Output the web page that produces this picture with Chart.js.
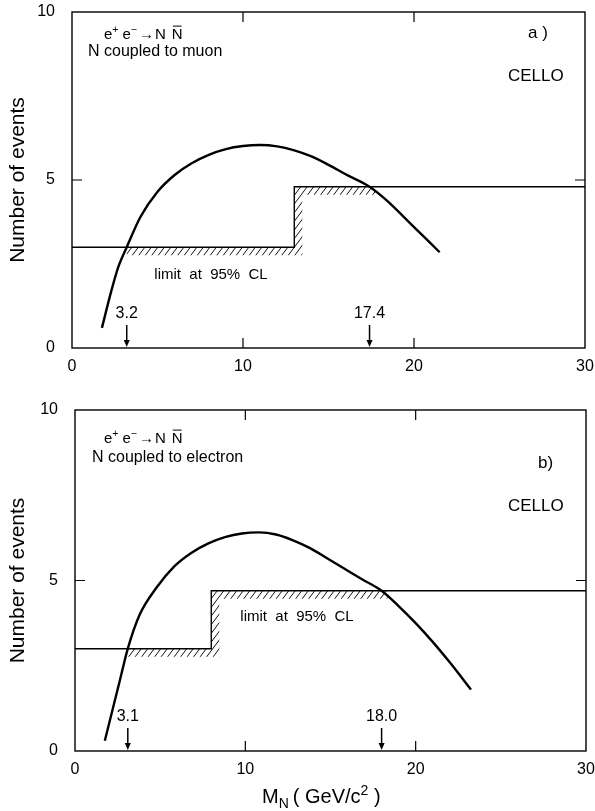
<!DOCTYPE html>
<html>
<head>
<meta charset="utf-8">
<script src="https://cdn.jsdelivr.net/npm/chart.js@4/dist/chart.umd.min.js"></script>
<style>
  html, body { margin: 0; padding: 0; background: #fff; }
  #wrap { position: relative; width: 595px; height: 811px; }
  canvas { position: absolute; left: 0; }
</style>
</head>
<body>
<div id="wrap">
  <canvas id="panelA" width="595" height="395" style="top:0"></canvas>
  <canvas id="panelB" width="595" height="416" style="top:395px"></canvas>
</div>
<script>
// ---- panel a): N coupled to muon ----
const massA   = [1.75, 2.3, 2.7, 3.2, 4.0, 5.0, 6.0, 7.0, 8.0, 9.0, 10.0, 11.0, 12.0, 13.0, 14.0, 15.0, 16.0, 17.4, 18.5, 19.5, 20.5, 21.5];
const eventsA = [0.6, 1.7, 2.4, 3.0, 3.9, 4.65, 5.15, 5.5, 5.75, 5.92, 6.01, 6.04, 6.0, 5.88, 5.7, 5.45, 5.17, 4.8, 4.35, 3.85, 3.35, 2.85];
const limitEdgesA  = [0, 13, 30];
const limitLevelsA = [3.0, 4.8, 4.8];
const boundsA      = [3.2, 17.4];
const boundLabelsA = ['3.2', '17.4'];

// ---- panel b): N coupled to electron ----
const massB   = [1.75, 2.2, 2.6, 3.1, 3.8, 4.8, 5.8, 6.8, 7.8, 8.8, 9.8, 10.8, 11.8, 12.8, 13.8, 14.8, 15.8, 16.8, 18.0, 19.0, 20.0, 21.0, 22.0, 23.25];
const eventsB = [0.3, 1.2, 2.0, 3.0, 4.0, 4.8, 5.4, 5.8, 6.08, 6.27, 6.38, 6.41, 6.35, 6.18, 5.95, 5.65, 5.35, 5.05, 4.7, 4.25, 3.75, 3.2, 2.6, 1.8];
const limitEdgesB  = [0, 8, 30];
const limitLevelsB = [3.0, 4.7, 4.7];
const boundsB      = [3.1, 18.0];
const boundLabelsB = ['3.1', '18.0'];

// shared axes
const xTicks = [0, 10, 20, 30];
const xTickLabels = ['0', '10', '20', '30'];
const yTicks = [0, 5, 10];
const yTickLabels = ['0', '5', '10'];

const FONT = "'Liberation Sans', Arial, Helvetica, sans-serif";
Chart.defaults.font.family = FONT;
Chart.defaults.color = '#000';

function font(size) { return size + 'px ' + FONT; }

// draws a run of text pieces; pieces may be raised (sup), lowered (sub) or overlined
function drawRich(ctx, x, y, pieces, size) {
  ctx.save();
  ctx.textBaseline = 'alphabetic';
  ctx.textAlign = 'left';
  ctx.fillStyle = '#000';
  let cx = x;
  for (const p of pieces) {
    const s = p.sup || p.sub ? size * 0.7 : size;
    ctx.font = font(s);
    let dy = 0;
    if (p.sup) dy = -size * 0.38;
    if (p.sub) dy = size * 0.25;
    ctx.fillText(p.t, cx, y + dy);
    const w = ctx.measureText(p.t).width;
    if (p.bar) {
      ctx.strokeStyle = '#000';
      ctx.lineWidth = 1;
      ctx.beginPath();
      ctx.moveTo(cx + 1, y - size * 0.86);
      ctx.lineTo(cx + w - 1, y - size * 0.86);
      ctx.stroke();
    }
    cx += w + (p.gap || 0);
  }
  ctx.restore();
}

// hatched band on the excluded side of the limit staircase
function hatchBand(chart, edges, levels, from, to) {
  const { ctx, scales: { x, y } } = chart;
  const w = 8;
  const xs = x.getPixelForValue(edges[1]);
  const yLo = y.getPixelForValue(levels[0]);
  const yHi = y.getPixelForValue(levels[1]);
  const xa = x.getPixelForValue(from);
  const xb = x.getPixelForValue(to) + 6;
  ctx.save();
  ctx.beginPath();
  ctx.rect(xa, yLo, xs + w - xa, w);
  ctx.rect(xs, yHi, w, yLo - yHi + w);
  ctx.rect(xs, yHi, xb - xs, w);
  ctx.clip();
  ctx.strokeStyle = '#111';
  ctx.lineWidth = 1;
  ctx.beginPath();
  const H = chart.height;
  for (let k = -H; k < chart.width + H; k += 6.5) {
    ctx.moveTo(k, H);
    ctx.lineTo(k + 0.75 * H, 0);
  }
  ctx.stroke();
  ctx.restore();
}

// closed frame, inward tick marks and the tick labels
function frameAndTicks(chart) {
  const { ctx, chartArea: a, scales: { x, y } } = chart;
  ctx.save();
  ctx.strokeStyle = '#000';
  ctx.lineWidth = 1.4;
  ctx.strokeRect(a.left, a.top, a.right - a.left, a.bottom - a.top);
  ctx.lineWidth = 1.2;
  ctx.beginPath();
  for (const t of x.ticks.slice(1, -1)) {
    const px = x.getPixelForValue(t.value);
    ctx.moveTo(px, a.bottom); ctx.lineTo(px, a.bottom - 10);
    ctx.moveTo(px, a.top);    ctx.lineTo(px, a.top + 10);
  }
  for (const t of y.ticks.slice(1, -1)) {
    const py = y.getPixelForValue(t.value);
    ctx.moveTo(a.left, py);  ctx.lineTo(a.left + 10, py);
    ctx.moveTo(a.right, py); ctx.lineTo(a.right - 10, py);
  }
  ctx.stroke();

  ctx.fillStyle = '#000';
  ctx.font = font(16);
  ctx.textBaseline = 'middle';
  ctx.textAlign = 'center';
  x.ticks.forEach((t, i) => ctx.fillText(xTickLabels[i], x.getPixelForValue(t.value), a.bottom + 19));
  ctx.textAlign = 'right';
  y.ticks.forEach((t, i) => ctx.fillText(yTickLabels[i], a.left - 17, y.getPixelForValue(t.value)));

  // vertical axis title
  ctx.save();
  ctx.translate(18, (a.top + a.bottom) / 2);
  ctx.rotate(-Math.PI / 2);
  ctx.textAlign = 'center';
  ctx.font = font(21);
  ctx.fillText('Number of events', 0, 0);
  ctx.restore();
  ctx.restore();
}

function boundArrows(chart, bounds, labels) {
  const { ctx, chartArea: a, scales: { x } } = chart;
  ctx.save();
  ctx.strokeStyle = '#000';
  ctx.fillStyle = '#000';
  bounds.forEach((b, i) => {
    const px = x.getPixelForValue(b);
    ctx.lineWidth = 1.5;
    ctx.beginPath();
    ctx.moveTo(px, a.bottom - 23);
    ctx.lineTo(px, a.bottom - 6);
    ctx.stroke();
    ctx.beginPath();
    ctx.moveTo(px - 3, a.bottom - 8);
    ctx.lineTo(px + 3, a.bottom - 8);
    ctx.lineTo(px, a.bottom - 1);
    ctx.closePath();
    ctx.fill();
    ctx.font = font(16);
    ctx.textAlign = 'center';
    ctx.textBaseline = 'middle';
    ctx.fillText(labels[i], px, a.bottom - 34);
  });
  ctx.restore();
}

function reaction(ctx, x, y) {
  drawRich(ctx, x, y, [
    { t: 'e' }, { t: '+', sup: true, gap: 4 },
    { t: 'e' }, { t: '\u2212', sup: true, gap: 2 },
    { t: '\u2192', gap: 1 }, { t: 'N', gap: 6 },
    { t: 'N', bar: true }
  ], 15);
}

function makePanel(id, cfg) {
  const el = document.getElementById(id);
  const curve = cfg.mass.map((m, i) => ({ x: m, y: cfg.events[i] }));
  const limit = cfg.edges.map((e, i) => ({ x: e, y: cfg.levels[i] }));
  const deco = {
    id: 'deco_' + id,
    beforeDatasetsDraw(chart) {
      hatchBand(chart, cfg.edges, cfg.levels, cfg.bounds[0], cfg.bounds[1]);
    },
    afterDraw(chart) {
      frameAndTicks(chart);
      boundArrows(chart, cfg.bounds, cfg.boundLabels);
      cfg.text(chart);
    }
  };
  return new Chart(el, {
    type: 'line',
    data: {
      datasets: [
        { data: curve, borderColor: '#000', borderWidth: 2.4, pointRadius: 0,
          cubicInterpolationMode: 'monotone', fill: false },
        { data: limit, borderColor: '#000', borderWidth: 1.4, pointRadius: 0,
          stepped: 'before', fill: false }
      ]
    },
    options: {
      responsive: false,
      animation: false,
      events: [],
      layout: { padding: cfg.padding },
      plugins: { legend: { display: false }, tooltip: { enabled: false } },
      scales: {
        x: {
          type: 'linear', min: 0, max: 30,
          grid: { display: false, drawTicks: false },
          border: { display: false },
          afterBuildTicks: s => { s.ticks = xTicks.map(v => ({ value: v })); },
          ticks: { display: false },
          afterFit: s => { s.height = cfg.xHeight; }
        },
        y: {
          type: 'linear', min: 0, max: 10,
          grid: { display: false, drawTicks: false },
          border: { display: false },
          afterBuildTicks: s => { s.ticks = yTicks.map(v => ({ value: v })); },
          ticks: { display: false },
          afterFit: s => { s.width = cfg.yWidth; }
        }
      }
    },
    plugins: [deco]
  });
}

makePanel('panelA', {
  mass: massA, events: eventsA, edges: limitEdgesA, levels: limitLevelsA,
  bounds: boundsA, boundLabels: boundLabelsA,
  padding: { left: 0, right: 10, top: 12, bottom: 0 },
  yWidth: 72, xHeight: 47,
  text(chart) {
    const { ctx } = chart;
    reaction(ctx, 104, 39);
    ctx.save();
    ctx.fillStyle = '#000';
    ctx.font = font(16);
    ctx.textBaseline = 'alphabetic';
    ctx.fillText('N coupled to muon', 88, 56);
    ctx.font = font(17);
    ctx.fillText('a )', 528, 38);
    ctx.fillText('CELLO', 508, 81);
    ctx.font = font(15);
    ctx.textAlign = 'center';
    ctx.fillText('limit  at  95%  CL', 211, 279);
    ctx.restore();
  }
});

makePanel('panelB', {
  mass: massB, events: eventsB, edges: limitEdgesB, levels: limitLevelsB,
  bounds: boundsB, boundLabels: boundLabelsB,
  padding: { left: 0, right: 9, top: 15, bottom: 0 },
  yWidth: 75, xHeight: 60,
  text(chart) {
    const { ctx } = chart;
    reaction(ctx, 104, 48);
    ctx.save();
    ctx.fillStyle = '#000';
    ctx.font = font(16);
    ctx.textBaseline = 'alphabetic';
    ctx.fillText('N coupled to electron', 92, 67);
    ctx.font = font(17);
    ctx.fillText('b)', 538, 73);
    ctx.fillText('CELLO', 508, 116);
    ctx.font = font(15);
    ctx.textAlign = 'center';
    ctx.fillText('limit  at  95%  CL', 297, 226);
    ctx.restore();
    drawRich(ctx, 262, 408, [
      { t: 'M' }, { t: 'N', sub: true, gap: 4 },
      { t: '( GeV/c' }, { t: '2', sup: true }, { t: ' )' }
    ], 20);
  }
});
</script>
</body>
</html>
